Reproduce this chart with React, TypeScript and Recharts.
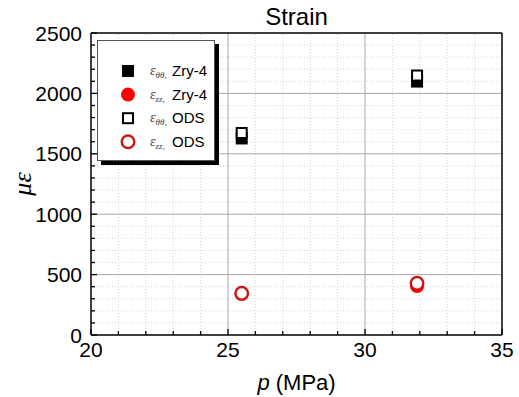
import { ScatterChart, Scatter, XAxis, YAxis, ReferenceLine, Legend, Label } from 'recharts'

// pressure p (MPa) of each test
const pressure = [25.5, 31.9]
// strain in microstrain
const zryHoop = [1627, 2098]
const zryAxial = [342, 405]
const odsHoop = [1672, 2148]
const odsAxial = [345, 428]

const xTicks = [20, 21, 22, 23, 24, 25, 26, 27, 28, 29, 30, 31, 32, 33, 34, 35]
const xMajor = [20, 25, 30, 35]
const yTicks = [0, 100, 200, 300, 400, 500, 600, 700, 800, 900, 1000, 1100, 1200, 1300, 1400, 1500, 1600, 1700, 1800, 1900, 2000, 2100, 2200, 2300, 2400, 2500]
const yMajor = [0, 500, 1000, 1500, 2000, 2500]

const SANS = '"Liberation Sans", Arial, sans-serif'
const SERIF = '"Liberation Serif", "Times New Roman", serif'
const RED = '#ff0000'
const RED_DARK = '#cc1515'

const toPoints = (vals: number[]) => pressure.map((p, i) => ({ p, v: vals[i] }))

function XTick({ x, y, payload }: any) {
  const major = xMajor.includes(payload.value)
  return (
    <g>
      <line x1={x} x2={x} y1={y} y2={y - (major ? 6 : 4)} stroke="#000" strokeWidth={1.3} />
      {major && (
        <text x={x} y={y + 22} textAnchor="middle" fontSize={21} fontFamily={SANS} fill="#000">
          {payload.value}
        </text>
      )}
    </g>
  )
}

function YTick({ x, y, payload }: any) {
  const major = yMajor.includes(payload.value)
  return (
    <g>
      <line x1={x} x2={x + (major ? 6 : 4)} y1={y} y2={y} stroke="#000" strokeWidth={1.3} />
      {major && (
        <text x={x - 9} y={y + 7.5} textAnchor="end" fontSize={21} fontFamily={SANS} fill="#000">
          {payload.value}
        </text>
      )}
    </g>
  )
}

const squareFilled = ({ cx, cy }: any) => <rect x={cx - 6} y={cy - 6} width={12} height={12} fill="#000" />
const squareOpen = ({ cx, cy }: any) => (
  <rect x={cx - 5} y={cy - 5} width={10} height={10} fill="#fff" stroke="#000" strokeWidth={2} />
)
const circleFilled = ({ cx, cy }: any) => <circle cx={cx} cy={cy} r={7} fill={RED} />
const circleOpen = ({ cx, cy }: any) => (
  <circle cx={cx} cy={cy} r={6.3} fill="#fff" stroke={RED_DARK} strokeWidth={2.4} />
)

const legendRows = [
  { sub: 'θθ', name: 'Zry-4', symbol: squareFilled },
  { sub: 'zz', name: 'Zry-4', symbol: circleFilled },
  { sub: 'θθ', name: 'ODS', symbol: squareOpen },
  { sub: 'zz', name: 'ODS', symbol: circleOpen },
]

function LegendBox() {
  return (
    <div
      style={{
        width: 118,
        height: 121,
        border: '1px solid #555',
        background: '#fff',
        boxShadow: '4px 4px 0 #000',
        boxSizing: 'border-box',
      }}
    >
      <svg width={116} height={119} style={{ display: 'block' }}>
        {legendRows.map((r, i) => {
          const cy = 30 + i * 23.6
          return (
            <g key={i}>
              {r.symbol({ cx: 30, cy })}
              <text x={52} y={cy + 4} fontFamily={SERIF} fontStyle="italic" fontSize={14} fill="#444">
                ε
                <tspan fontSize={9} dy={3}>{r.sub},</tspan>
              </text>
              <text x={74} y={cy + 5} fontFamily={SANS} fontSize={15} fill="#000">
                {r.name}
              </text>
            </g>
          )
        })}
      </svg>
    </div>
  )
}

export default function App() {
  const minorX = xTicks.filter((t) => !xMajor.includes(t))
  const minorY = yTicks.filter((t) => !yMajor.includes(t))
  return (
    <div style={{ position: 'absolute', left: 0, top: 0, background: '#fff' }}>
      <ScatterChart width={519} height={397} margin={{ top: 0, right: 0, bottom: 0, left: 0 }}>
        {minorX.map((t) => (
          <ReferenceLine key={'mx' + t} x={t} stroke="#d4d4d4" strokeDasharray="1 2" />
        ))}
        {minorY.map((t) => (
          <ReferenceLine key={'my' + t} y={t} stroke="#d4d4d4" strokeDasharray="1 2" />
        ))}
        {[25, 30].map((t) => (
          <ReferenceLine key={'Mx' + t} x={t} stroke="#a9a9a9" strokeWidth={1} />
        ))}
        {[500, 1000, 1500, 2000].map((t) => (
          <ReferenceLine key={'My' + t} y={t} stroke="#a9a9a9" strokeWidth={1} />
        ))}
        <XAxis
          type="number"
          dataKey="p"
          domain={[20, 35]}
          ticks={xTicks}
          interval={0}
          height={62}
          tickSize={0}
          tickMargin={0}
          tickLine={false}
          tick={<XTick />}
          axisLine={{ stroke: '#000', strokeWidth: 1.5 }}
        >
          <Label
            content={({ viewBox }: any) => (
              <text
                x={viewBox.x + viewBox.width / 2}
                y={viewBox.y + 55}
                textAnchor="middle"
                fontSize={22}
                fontFamily={SANS}
                fill="#000"
              >
                <tspan fontStyle="italic">p</tspan> (MPa)
              </text>
            )}
          />
        </XAxis>
        <XAxis
          xAxisId="top"
          orientation="top"
          type="number"
          domain={[20, 35]}
          height={33}
          tick={false}
          tickLine={false}
          axisLine={{ stroke: '#000', strokeWidth: 1.5 }}
        >
          <Label
            content={({ viewBox }: any) => (
              <text
                x={viewBox.x + viewBox.width / 2}
                y={viewBox.y + 25}
                textAnchor="middle"
                fontSize={24}
                fontFamily={SANS}
                fill="#000"
              >
                Strain
              </text>
            )}
          />
        </XAxis>
        <YAxis
          type="number"
          dataKey="v"
          domain={[0, 2500]}
          ticks={yTicks}
          interval={0}
          width={91}
          tickSize={0}
          tickMargin={0}
          tickLine={false}
          tick={<YTick />}
          axisLine={{ stroke: '#000', strokeWidth: 1.5 }}
        >
          <Label
            content={({ viewBox }: any) => {
              const cx = 31
              const cy = viewBox.y + viewBox.height / 2
              return (
                <text
                  x={cx}
                  y={cy}
                  transform={`rotate(-90, ${cx}, ${cy})`}
                  textAnchor="middle"
                  fontSize={26}
                  fontFamily={SERIF}
                  fontStyle="italic"
                  fill="#000"
                >
                  με
                </text>
              )
            }}
          />
        </YAxis>
        <YAxis
          yAxisId="right"
          orientation="right"
          type="number"
          domain={[0, 2500]}
          width={17}
          tick={false}
          tickLine={false}
          axisLine={{ stroke: '#000', strokeWidth: 1.5 }}
        />
        <Legend
          layout="horizontal"
          align="center"
          verticalAlign="middle"
          wrapperStyle={{ left: 97, top: 40, width: 122, height: 125 }}
          content={() => <LegendBox />}
        />
        <Scatter name="εθθ, Zry-4" data={toPoints(zryHoop)} shape={squareFilled} isAnimationActive={false} />
        <Scatter name="εzz, Zry-4" data={toPoints(zryAxial)} shape={circleFilled} isAnimationActive={false} />
        <Scatter name="εθθ, ODS" data={toPoints(odsHoop)} shape={squareOpen} isAnimationActive={false} />
        <Scatter name="εzz, ODS" data={toPoints(odsAxial)} shape={circleOpen} isAnimationActive={false} />
      </ScatterChart>
    </div>
  )
}
